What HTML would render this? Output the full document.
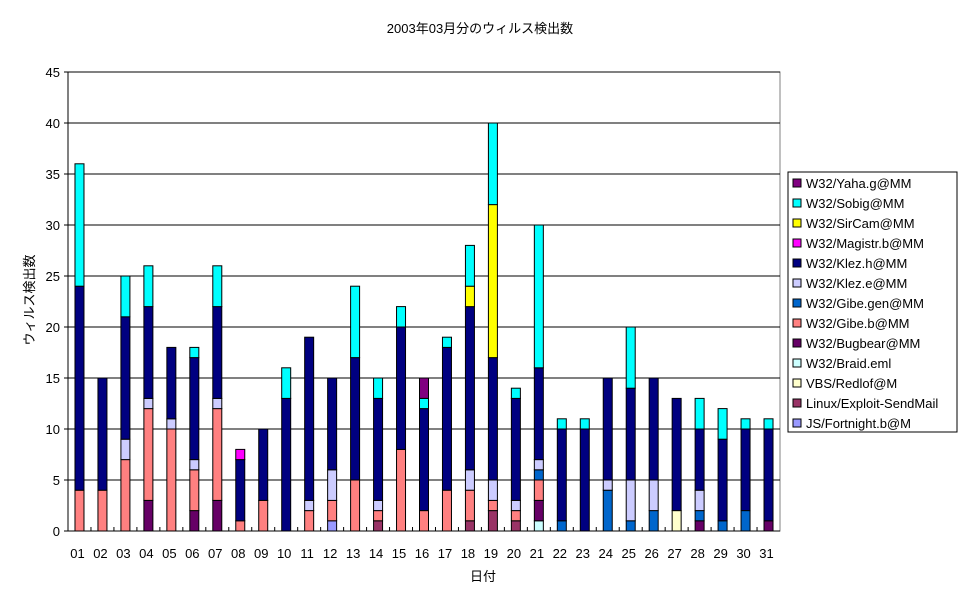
<!DOCTYPE html>
<html><head><meta charset="utf-8"><style>
body{margin:0;background:#fff;}
svg text{font-family:"Liberation Sans","Noto Sans CJK JP",sans-serif;font-size:13px;fill:#000;}
</style></head><body>
<svg id="chart" width="967" height="601" xmlns="http://www.w3.org/2000/svg">
<rect x="0" y="0" width="967" height="601" fill="#fff"/>
<text x="480" y="33" text-anchor="middle">2003年03月分のウィルス検出数</text>
<text x="483" y="581" text-anchor="middle">日付</text>
<text x="34" y="300" text-anchor="middle" transform="rotate(-90 34 300)">ウィルス検出数</text>
<g id="grid"></g><g id="bars"></g><g id="axes"></g><g id="legend"></g>
</svg>
<script>
const categories=["01","02","03","04","05","06","07","08","09","10","11","12","13","14","15","16","17","18","19","20","21","22","23","24","25","26","27","28","29","30","31"];
const seriesNames=["JS/Fortnight.b@M","Linux/Exploit-SendMail","VBS/Redlof@M","W32/Braid.eml","W32/Bugbear@MM","W32/Gibe.b@MM","W32/Gibe.gen@MM","W32/Klez.e@MM","W32/Klez.h@MM","W32/Magistr.b@MM","W32/SirCam@MM","W32/Sobig@MM","W32/Yaha.g@MM"];
const seriesColors=["#9999FF","#993366","#FFFFCC","#CCFFFF","#660066","#FF8080","#0066CC","#CCCCFF","#000080","#FF00FF","#FFFF00","#00FFFF","#800080"];
const jsFortnight=[0,0,0,0,0,0,0,0,0,0,0,1,0,0,0,0,0,0,0,0,0,0,0,0,0,0,0,0,0,0,0];
const linuxExploit=[0,0,0,0,0,0,0,0,0,0,0,0,0,1,0,0,0,1,2,1,0,0,0,0,0,0,0,0,0,0,0];
const vbsRedlof=[0,0,0,0,0,0,0,0,0,0,0,0,0,0,0,0,0,0,0,0,0,0,0,0,0,0,2,0,0,0,0];
const braid=[0,0,0,0,0,0,0,0,0,0,0,0,0,0,0,0,0,0,0,0,1,0,0,0,0,0,0,0,0,0,0];
const bugbear=[0,0,0,3,0,2,3,0,0,0,0,0,0,0,0,0,0,0,0,0,2,0,0,0,0,0,0,1,0,0,1];
const gibeB=[4,4,7,9,10,4,9,1,3,0,2,2,5,1,8,2,4,3,1,1,2,0,0,0,0,0,0,0,0,0,0];
const gibeGen=[0,0,0,0,0,0,0,0,0,0,0,0,0,0,0,0,0,0,0,0,1,1,0,4,1,2,0,1,1,2,0];
const klezE=[0,0,2,1,1,1,1,0,0,0,1,3,0,1,0,0,0,2,2,1,1,0,0,1,4,3,0,2,0,0,0];
const klezH=[20,11,12,9,7,10,9,6,7,13,16,9,12,10,12,10,14,16,12,10,9,9,10,10,9,10,11,6,8,8,9];
const magistr=[0,0,0,0,0,0,0,1,0,0,0,0,0,0,0,0,0,0,0,0,0,0,0,0,0,0,0,0,0,0,0];
const sircam=[0,0,0,0,0,0,0,0,0,0,0,0,0,0,0,0,0,2,15,0,0,0,0,0,0,0,0,0,0,0,0];
const sobig=[12,0,4,4,0,1,4,0,0,3,0,0,7,2,2,1,1,4,8,1,14,1,1,0,6,0,0,3,3,1,1];
const yaha=[0,0,0,0,0,0,0,0,0,0,0,0,0,0,0,2,0,0,0,0,0,0,0,0,0,0,0,0,0,0,0];
const yTicks=[0,5,10,15,20,25,30,35,40,45];
const series=[jsFortnight,linuxExploit,vbsRedlof,braid,bugbear,gibeB,gibeGen,klezE,klezH,magistr,sircam,sobig,yaha];

const NS="http://www.w3.org/2000/svg";
const L=68,R=780,T=72,B=531,YMAX=45;
const bw=(R-L)/categories.length;
const y=v=>B-(v/YMAX)*(B-T);
const xc=i=>L+bw*(i+0.5);
function mk(tag,attrs,parent){const e=document.createElementNS(NS,tag);for(const k in attrs)e.setAttribute(k,attrs[k]);parent.appendChild(e);return e;}
const grid=document.getElementById('grid'),bars=document.getElementById('bars'),axes=document.getElementById('axes'),legend=document.getElementById('legend');
mk('rect',{x:L,y:T,width:R-L,height:B-T,fill:'none',stroke:'#808080','stroke-width':1},grid);
yTicks.forEach(t=>{
  if(t>0){const g=mk('line',{x1:L,x2:R,y1:y(t),y2:y(t),stroke:'#000','stroke-width':1},grid);
  
  }
  const tk=mk('line',{x1:L-4,x2:L,y1:y(t),y2:y(t),stroke:'#000'},axes);
  const tx=mk('text',{x:L-8,y:y(t)+5,'text-anchor':'end'},axes);tx.textContent=t;
  
  
});
categories.forEach((c,i)=>{
  let acc=0;
  series.forEach((s,k)=>{
    const v=s[i];if(!v)return;
    const r=mk('rect',{x:xc(i)-4.5,y:y(acc+v),width:9,height:y(acc)-y(acc+v),fill:seriesColors[k],stroke:'#000','stroke-width':1},bars);
    
    
    acc+=v;
  });
  const tx=mk('text',{x:xc(i)-2,y:558,'text-anchor':'middle'},axes);tx.textContent=c;
  
  
  mk('line',{x1:L+bw*i,x2:L+bw*i,y1:B,y2:B-4,stroke:'#000'},axes);
});
mk('line',{x1:L,x2:L,y1:T,y2:B,stroke:'#000'},axes);
mk('line',{x1:L,x2:R,y1:B,y2:B,stroke:'#000'},axes);
const lb=mk('rect',{x:788,y:172,width:169,height:260,fill:'#fff',stroke:'#000'},legend);


for(let k=seriesNames.length-1,j=0;k>=0;k--,j++){
  const yy=183+j*20;
  mk('rect',{x:793,y:yy-4,width:8,height:8,fill:seriesColors[k],stroke:'#000'},legend);
  const t=mk('text',{x:806,y:yy+5},legend);t.textContent=seriesNames[k];
  
  
}
</script>
</body></html>
